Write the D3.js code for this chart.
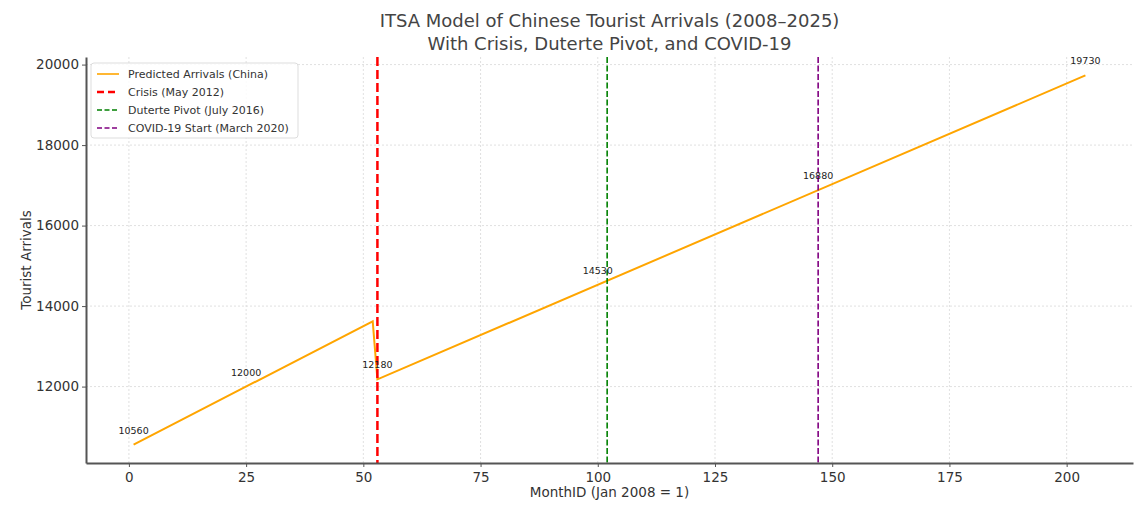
<!DOCTYPE html>
<html>
<head>
<meta charset="utf-8">
<script src="https://cdn.jsdelivr.net/npm/d3@7"></script>
<style>
	body { margin: 0; background: #fff; }
	text { font-family: "DejaVu Sans", sans-serif; }
	.grid line { stroke: #d8d8d8; stroke-dasharray: 2,2; stroke-width: 0.8; }
</style>
</head>
<body>
<div id="chart-area"></div>
<script>

// model vertices (MonthID, predicted arrivals)
var months = [1, 52, 53, 204];
var arrivals = [10560, 13620, 12180, 19730];

// annotated points
var labelMonths = [1, 25, 53, 100, 147, 204];
var labelValues = [10560, 12000, 12180, 14530, 16880, 19730];

// event lines
var eventNames = ["Crisis (May 2012)", "Duterte Pivot (July 2016)", "COVID-19 Start (March 2020)"];
var eventMonths = [53, 102, 147];
var eventColors = ["red", "green", "purple"];

var xTicks = [0, 25, 50, 75, 100, 125, 150, 175, 200];
var yTicks = [12000, 14000, 16000, 18000, 20000];

var width = 1147, height = 514;
var margin = {top: 57, right: 14, bottom: 51, left: 86};
var w = width - margin.left - margin.right,
	h = height - margin.top - margin.bottom;

var svg = d3.select("#chart-area").append("svg")
	.attr("width", width)
	.attr("height", height);

var g = svg.append("g")
	.attr("transform", "translate(" + margin.left + "," + margin.top + ")");

var x = d3.scaleLinear().domain([-9.15, 214.15]).range([0, w]);
var y = d3.scaleLinear().domain([10101.5, 20188.5]).range([h, 0]);

// grid
g.append("g").attr("class", "grid")
	.selectAll("line").data(xTicks).enter().append("line")
	.attr("x1", function(d) { return x(d); })
	.attr("x2", function(d) { return x(d); })
	.attr("y1", 0).attr("y2", h);
g.append("g").attr("class", "grid")
	.selectAll("line").data(yTicks).enter().append("line")
	.attr("y1", function(d) { return y(d); })
	.attr("y2", function(d) { return y(d); })
	.attr("x1", 0).attr("x2", w);

// model line
var pts = months.map(function(m, i) { return [m, arrivals[i]]; });
var line = d3.line()
	.x(function(d) { return x(d[0]); })
	.y(function(d) { return y(d[1]); });

g.append("path")
	.datum(pts)
	.attr("d", line)
	.attr("fill", "none")
	.attr("stroke", "#ffa500")
	.attr("stroke-width", 2);

// event lines
g.selectAll(".event")
	.data(eventMonths).enter().append("line")
	.attr("class", "event")
	.attr("x1", function(d) { return x(d); })
	.attr("x2", function(d) { return x(d); })
	.attr("y1", 0).attr("y2", h)
	.attr("stroke", function(d, i) { return eventColors[i]; })
	.attr("stroke-width", function(d, i) { return i == 0 ? 2.5 : 1.6; })
	.attr("stroke-dasharray", function(d, i) { return i == 0 ? "9,4" : "6,2.5"; });

// annotations
g.selectAll(".lbl")
	.data(labelMonths).enter().append("text")
	.attr("class", "lbl")
	.attr("x", function(d) { return x(d); })
	.attr("y", function(d, i) { return y(labelValues[i]) - 11; })
	.attr("text-anchor", "middle")
	.attr("font-size", "9.5px")
	.attr("fill", "#222")
	.text(function(d, i) { return labelValues[i]; });

// axes
var xAxis = d3.axisBottom(x).tickValues(xTicks).tickSize(4).tickSizeOuter(0).tickPadding(5);
var yAxis = d3.axisLeft(y).tickValues(yTicks).tickSize(4).tickSizeOuter(0).tickPadding(3)
	.tickFormat(d3.format("d"));

var xg = g.append("g")
	.attr("transform", "translate(0," + h + ")")
	.call(xAxis);
var yg = g.append("g").call(yAxis);

[xg, yg].forEach(function(a) {
	a.select(".domain").attr("stroke", "#555").attr("stroke-width", 2);
	a.selectAll(".tick line").attr("stroke", "#555");
	a.selectAll(".tick text")
		.attr("font-size", "13.5px")
		.attr("fill", "#333")
		.style("font-family", "DejaVu Sans, sans-serif");
});

// axis labels
svg.append("text")
	.attr("x", margin.left + w / 2)
	.attr("y", 497)
	.attr("text-anchor", "middle")
	.attr("font-size", "13.5px")
	.attr("fill", "#333")
	.text("MonthID (Jan 2008 = 1)");

svg.append("text")
	.attr("transform", "translate(31," + (margin.top + h / 2) + ") rotate(-90)")
	.attr("text-anchor", "middle")
	.attr("font-size", "13.5px")
	.attr("fill", "#333")
	.text("Tourist Arrivals");

// title
var title = svg.append("text")
	.attr("x", margin.left + w / 2)
	.attr("text-anchor", "middle")
	.attr("font-size", "18px")
	.attr("fill", "#444");
title.append("tspan").attr("x", margin.left + w / 2).attr("y", 27)
	.text("ITSA Model of Chinese Tourist Arrivals (2008\u20132025)");
title.append("tspan").attr("x", margin.left + w / 2).attr("y", 50)
	.text("With Crisis, Duterte Pivot, and COVID-19");

// legend
var legendNames = ["Predicted Arrivals (China)"].concat(eventNames);
var legendColors = ["#ffa500"].concat(eventColors);
var lg = svg.append("g").attr("transform", "translate(91,63)");
lg.append("rect")
	.attr("width", 207).attr("height", 75)
	.attr("rx", 3)
	.attr("fill", "#fff").attr("fill-opacity", 0.85)
	.attr("stroke", "#ddd");
legendNames.forEach(function(name, i) {
	var yy = 11 + i * 18;
	lg.append("line")
		.attr("x1", 6).attr("x2", 28)
		.attr("y1", yy).attr("y2", yy)
		.attr("stroke", legendColors[i])
		.attr("stroke-width", i == 1 ? 2.5 : 1.6)
		.attr("stroke-dasharray", i == 0 ? null : (i == 1 ? "7,4" : "5,2.5"));
	lg.append("text")
		.attr("x", 37).attr("y", yy + 4)
		.attr("font-size", "11px")
		.attr("fill", "#333")
		.text(name);
});

</script>
</body>
</html>
